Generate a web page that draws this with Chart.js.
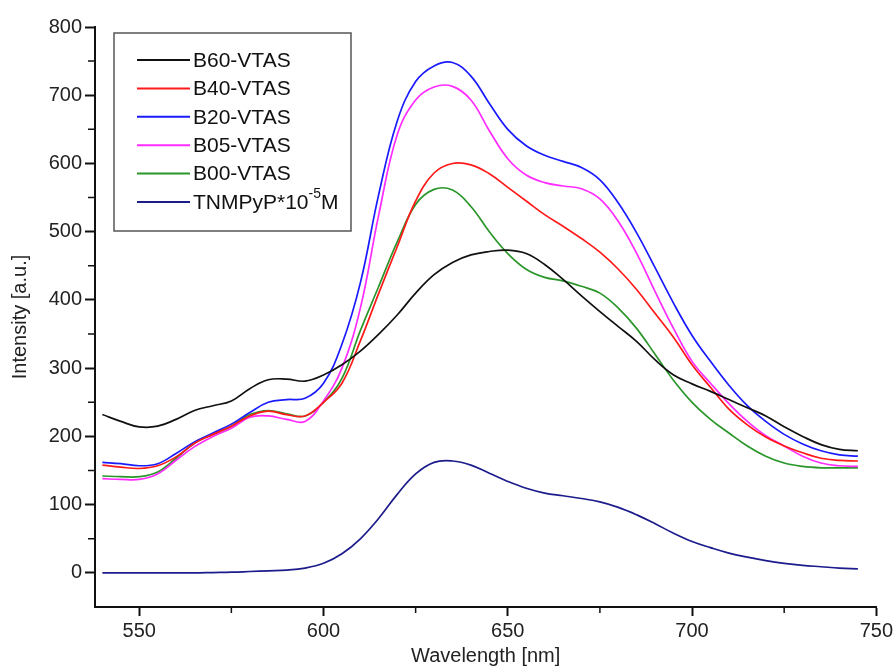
<!DOCTYPE html>
<html>
<head>
<meta charset="utf-8">
<script src="https://cdn.jsdelivr.net/npm/chart.js@4.4.1/dist/chart.umd.min.js"></script>
<style>
  body { margin: 0; background: #fff; }
  #wrap { width: 896px; height: 668px; }
</style>
</head>
<body>
<div id="wrap"><canvas id="myChart"></canvas></div>
<script>
// wavelength [nm], one reading every 5 nm
var wavelengths = [540, 545, 550, 555, 560, 565, 570, 575, 580, 585, 590, 595, 600, 605, 610, 615, 620, 625, 630, 635, 640,
                   645, 650, 655, 660, 665, 670, 675, 680, 685, 690, 695, 700, 705, 710, 715, 720, 725, 730, 735, 740, 745];

// intensity [a.u.] for each sample
var b60 = [232, 222, 214, 215, 225, 238, 245, 252, 270, 283, 284, 281, 290, 305, 325, 350, 378, 410, 437, 455, 466,
           471, 473, 468, 452, 430, 406, 383, 361, 339, 312, 290, 277, 266, 254, 242, 230, 214, 200, 188, 181, 179];
var b40 = [158, 155, 153, 157, 170, 190, 203, 215, 230, 237, 232, 230, 250, 278, 340, 410, 478, 545, 586, 600, 598,
           585, 565, 545, 525, 508, 490, 470, 445, 415, 380, 345, 305, 272, 240, 217, 199, 186, 176, 168, 165, 164];
var b20 = [162, 160, 157, 160, 175, 192, 205, 218, 235, 250, 254, 256, 278, 335, 425, 555, 662, 720, 743, 748, 728,
           688, 650, 626, 612, 603, 594, 576, 542, 498, 447, 395, 348, 310, 275, 245, 222, 203, 189, 179, 173, 171];
var b05 = [138, 137, 137, 145, 165, 185, 200, 212, 228, 230, 225, 222, 252, 300, 388, 525, 642, 693, 712, 713, 693,
           648, 607, 583, 572, 567, 563, 548, 515, 468, 412, 358, 310, 278, 248, 222, 201, 186, 171, 161, 157, 156];
var b00 = [142, 141, 141, 148, 168, 190, 203, 215, 232, 238, 233, 230, 250, 285, 355, 420, 485, 540, 562, 561, 537,
           500, 468, 445, 433, 428, 420, 410, 388, 358, 320, 282, 250, 225, 205, 186, 171, 161, 156, 154, 154, 154];
var tnmpyp = [0, 0, 0, 0, 0, 0, 0.5, 1, 2, 3, 4, 7, 14, 28, 50, 80, 115, 145, 162, 164, 158,
              146, 134, 124, 117, 113, 109, 104, 96, 85, 72, 58, 46, 37, 29, 23, 18, 14, 11, 9, 7, 6];

var seriesNames = ['B60-VTAS', 'B40-VTAS', 'B20-VTAS', 'B05-VTAS', 'B00-VTAS', 'TNMPyP*10\u207B\u2075M'];
var seriesData = [b60, b40, b20, b05, b00, tnmpyp];
var seriesColors = ['#111111', '#ff1a1a', '#1a1aff', '#ff2bff', '#2a962a', '#1c1c8c'];

var xTicks = [550, 575, 600, 625, 650, 675, 700, 725, 750];
var yTicks = [0, 50, 100, 150, 200, 250, 300, 350, 400, 450, 500, 550, 600, 650, 700, 750, 800];

var fontFamily = "'Liberation Sans', Arial, sans-serif";
var supChars = { '\u207B': '-', '\u2070': '0', '\u00B9': '1', '\u00B2': '2', '\u00B3': '3', '\u2074': '4',
                 '\u2075': '5', '\u2076': '6', '\u2077': '7', '\u2078': '8', '\u2079': '9' };

// build the datasets from the arrays above
var datasets = seriesNames.map(function(name, i) {
    return {
        label: name,
        data: wavelengths.map(function(w, j) { return { x: w, y: seriesData[i][j] }; }),
        borderColor: seriesColors[i],
        backgroundColor: seriesColors[i],
        borderWidth: 1.7,
        pointRadius: 0,
        tension: 0.4,
        fill: false
    };
});

// writes a label, putting superscript characters up and smaller
function drawLabel(ctx, text, x, y) {
    var parts = text.split(/([\u207B\u2070-\u2079\u00B9\u00B2\u00B3]+)/);
    parts.forEach(function(p) {
        if (!p) return;
        if (supChars[p[0]]) {
            var s = p.split('').map(function(c) { return supChars[c]; }).join('');
            ctx.font = '14px ' + fontFamily;
            ctx.fillText(s, x, y - 9);
            x += ctx.measureText(s).width;
        } else {
            ctx.font = '21px ' + fontFamily;
            ctx.fillText(p, x, y);
            x += ctx.measureText(p).width;
        }
    });
}

// minor ticks + boxed legend inside the plot
var extras = {
    id: 'extras',
    afterDraw: function(chart) {
        var ctx = chart.ctx, area = chart.chartArea;
        var xs = chart.scales.x, ys = chart.scales.y;
        ctx.save();
        ctx.strokeStyle = '#111';
        ctx.lineWidth = 1.5;
        ctx.beginPath();
        xTicks.forEach(function(v) {
            if (v % 50 !== 0) {
                var px = xs.getPixelForValue(v);
                ctx.moveTo(px, area.bottom);
                ctx.lineTo(px, area.bottom + 6);
            }
        });
        yTicks.forEach(function(v) {
            if (v % 100 !== 0) {
                var py = ys.getPixelForValue(v);
                ctx.moveTo(area.left, py);
                ctx.lineTo(area.left - 7, py);
            }
        });
        ctx.stroke();

        // legend
        var bx = area.left + 19, by = area.top + 6, bw = 237, bh = 198;
        ctx.strokeStyle = '#555';
        ctx.lineWidth = 1.5;
        ctx.strokeRect(bx, by, bw, bh);
        ctx.textBaseline = 'middle';
        ctx.fillStyle = '#111';
        chart.data.datasets.forEach(function(ds, i) {
            var y = by + 27 + i * 28.4;
            ctx.strokeStyle = ds.borderColor;
            ctx.lineWidth = 2;
            ctx.beginPath();
            ctx.moveTo(bx + 23, y);
            ctx.lineTo(bx + 76, y);
            ctx.stroke();
            drawLabel(ctx, ds.label, bx + 79, y + 1);
        });
        ctx.restore();
    }
};

window.addEventListener('load', function() {
    var ctx = document.getElementById('myChart').getContext('2d');
    var myChart = new Chart(ctx, {
        type: 'line',
        data: { datasets: datasets },
        plugins: [extras],
        options: {
            responsive: true,
            maintainAspectRatio: false,
            animation: false,
            layout: { padding: { top: 27, right: 19, left: 0, bottom: 0 } },
            plugins: {
                legend: { display: false },
                tooltip: { enabled: false }
            },
            scales: {
                x: {
                    type: 'linear',
                    min: 538,
                    max: 750,
                    afterBuildTicks: function(axis) {
                        axis.ticks = xTicks.map(function(v) { return { value: v }; });
                    },
                    afterFit: function(scale) { scale.height = 61; },
                    grid: {
                        drawOnChartArea: false,
                        tickLength: 9,
                        tickWidth: 2,
                        tickColor: function(c) { return c.tick && c.tick.value % 50 === 0 ? '#111' : 'transparent'; }
                    },
                    border: { color: '#111', width: 2 },
                    ticks: {
                        autoSkip: false,
                        maxRotation: 0,
                        padding: 3,
                        color: '#222',
                        font: { family: fontFamily, size: 20 },
                        callback: function(v) { return v % 50 === 0 ? v : ''; }
                    },
                    title: {
                        display: true,
                        text: 'Wavelength [nm]',
                        color: '#222',
                        padding: { top: -2, bottom: 0 },
                        font: { family: fontFamily, size: 20 }
                    }
                },
                y: {
                    min: -50,
                    max: 800,
                    afterBuildTicks: function(axis) {
                        axis.ticks = yTicks.map(function(v) { return { value: v }; });
                    },
                    afterFit: function(scale) { scale.width = 95; },
                    grid: {
                        drawOnChartArea: false,
                        tickLength: 10,
                        tickWidth: 2,
                        tickColor: function(c) { return c.tick && c.tick.value % 100 === 0 ? '#111' : 'transparent'; }
                    },
                    border: { color: '#111', width: 2 },
                    ticks: {
                        autoSkip: false,
                        padding: 3,
                        color: '#222',
                        font: { family: fontFamily, size: 20 },
                        callback: function(v) { return v % 100 === 0 ? v : ''; }
                    },
                    title: {
                        display: true,
                        text: 'Intensity [a.u.]',
                        color: '#222',
                        padding: { top: 8, bottom: 0 },
                        font: { family: fontFamily, size: 20 }
                    }
                }
            }
        }
    });
});
</script>
</body>
</html>
